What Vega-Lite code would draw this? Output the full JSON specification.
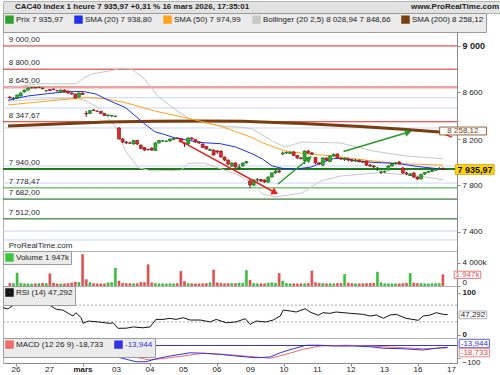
{
"$schema": "https://vega.github.io/schema/vega-lite/v6.json",
"padding": 0,
"spacing": 0,
"bounds": "flush",
"background": "#ffffff",
"config": {
 "font": "Liberation Sans",
 "view": {"stroke": "#b4b4b4", "strokeWidth": 1},
 "axis": {"labelFont": "Liberation Sans", "labelFontSize": 8, "labelColor": "#222222", "domainColor": "#8c8c8c", "tickColor": "#8c8c8c", "tickSize": 3, "labelPadding": 2, "grid": false},
 "legend": {"orient": "top-left", "offset": 0, "direction": "horizontal", "fillColor": "#ebebeb", "strokeColor": "#9c9c9c", "padding": 2, "labelFont": "Liberation Sans", "labelFontSize": 8, "labelColor": "#222222", "symbolType": "square", "symbolSize": 20, "symbolStrokeWidth": 4, "columnPadding": 4, "labelOffset": 2, "cornerRadius": 0}
},
"resolve": {"scale": {"x": "independent", "y": "independent", "color": "independent"}, "legend": {"color": "independent"}, "axis": {"x": "independent", "y": "independent"}},
"datasets": {
 "candles": [
  {"i":-3,"o":8561,"h":8565,"l":8548,"c":8552,"v":420},
  {"i":-2,"o":8548,"h":8561,"l":8535,"c":8549,"v":390},
  {"i":-1,"o":8552,"h":8582,"l":8548,"c":8578,"v":2240},
  {"i":0,"o":8569,"h":8600,"l":8565,"c":8595,"v":460},
  {"i":1,"o":8604,"h":8625,"l":8600,"c":8621,"v":360},
  {"i":2,"o":8621,"h":8642,"l":8616,"c":8638,"v":350},
  {"i":3,"o":8638,"h":8647,"l":8634,"c":8642,"v":320},
  {"i":4,"o":8642,"h":8647,"l":8634,"c":8638,"v":350},
  {"i":5,"o":8642,"h":8650,"l":8638,"c":8645,"v":390},
  {"i":6,"o":8638,"h":8642,"l":8625,"c":8634,"v":450},
  {"i":7,"o":8616,"h":8621,"l":8604,"c":8617,"v":420},
  {"i":8,"o":8625,"h":8629,"l":8612,"c":8616,"v":2120},
  {"i":9,"o":8629,"h":8634,"l":8621,"c":8625,"v":490},
  {"i":10,"o":8617,"h":8621,"l":8604,"c":8616,"v":350},
  {"i":11,"o":8604,"h":8625,"l":8600,"c":8621,"v":340},
  {"i":12,"o":8621,"h":8625,"l":8600,"c":8604,"v":360},
  {"i":13,"o":8612,"h":8616,"l":8590,"c":8595,"v":380},
  {"i":14,"o":8595,"h":8600,"l":8582,"c":8586,"v":490},
  {"i":15,"o":8586,"h":8590,"l":8548,"c":8552,"v":670},
  {"i":16,"o":8561,"h":8600,"l":8556,"c":8595,"v":600},
  {"i":17,"o":8595,"h":8600,"l":8578,"c":8582,"v":5490},
  {"i":18,"o":8419,"h":8440,"l":8388,"c":8414,"v":1080},
  {"i":19,"o":8419,"h":8449,"l":8414,"c":8444,"v":560},
  {"i":20,"o":8449,"h":8457,"l":8440,"c":8444,"v":390},
  {"i":21,"o":8440,"h":8444,"l":8431,"c":8438,"v":350},
  {"i":22,"o":8436,"h":8440,"l":8414,"c":8419,"v":350},
  {"i":23,"o":8419,"h":8423,"l":8397,"c":8401,"v":340},
  {"i":24,"o":8401,"h":8410,"l":8393,"c":8406,"v":530},
  {"i":25,"o":8397,"h":8406,"l":8388,"c":8401,"v":560},
  {"i":26,"o":8393,"h":8401,"l":8388,"c":8397,"v":3100},
  {"i":27,"o":8294,"h":8302,"l":8195,"c":8199,"v":840},
  {"i":28,"o":8199,"h":8208,"l":8165,"c":8173,"v":420},
  {"i":29,"o":8173,"h":8182,"l":8156,"c":8165,"v":390},
  {"i":30,"o":8165,"h":8178,"l":8156,"c":8163,"v":380},
  {"i":31,"o":8156,"h":8191,"l":8152,"c":8186,"v":360},
  {"i":32,"o":8186,"h":8191,"l":8147,"c":8156,"v":390},
  {"i":33,"o":8147,"h":8152,"l":8113,"c":8117,"v":590},
  {"i":34,"o":8126,"h":8130,"l":8096,"c":8104,"v":560},
  {"i":35,"o":8109,"h":8117,"l":8100,"c":8107,"v":3700},
  {"i":36,"o":8122,"h":8126,"l":8096,"c":8104,"v":530},
  {"i":37,"o":8100,"h":8170,"l":8096,"c":8165,"v":420},
  {"i":38,"o":8165,"h":8191,"l":8160,"c":8186,"v":340},
  {"i":39,"o":8182,"h":8191,"l":8173,"c":8183,"v":360},
  {"i":40,"o":8178,"h":8186,"l":8173,"c":8182,"v":340},
  {"i":41,"o":8182,"h":8204,"l":8178,"c":8199,"v":350},
  {"i":42,"o":8195,"h":8208,"l":8191,"c":8204,"v":360},
  {"i":43,"o":8208,"h":8212,"l":8199,"c":8203,"v":390},
  {"i":44,"o":8204,"h":8208,"l":8170,"c":8173,"v":2540},
  {"i":45,"o":8165,"h":8173,"l":8130,"c":8156,"v":770},
  {"i":46,"o":8156,"h":8212,"l":8150,"c":8208,"v":390},
  {"i":47,"o":8208,"h":8216,"l":8191,"c":8199,"v":360},
  {"i":48,"o":8195,"h":8199,"l":8165,"c":8173,"v":350},
  {"i":49,"o":8173,"h":8178,"l":8156,"c":8165,"v":340},
  {"i":50,"o":8156,"h":8160,"l":8122,"c":8126,"v":360},
  {"i":51,"o":8135,"h":8139,"l":8109,"c":8113,"v":390},
  {"i":52,"o":8100,"h":8117,"l":8096,"c":8109,"v":530},
  {"i":53,"o":8104,"h":8109,"l":8057,"c":8061,"v":2770},
  {"i":54,"o":8096,"h":8104,"l":8070,"c":8087,"v":530},
  {"i":55,"o":8096,"h":8100,"l":8040,"c":8044,"v":420},
  {"i":56,"o":8044,"h":8048,"l":8010,"c":8018,"v":360},
  {"i":57,"o":8018,"h":8022,"l":7975,"c":7984,"v":380},
  {"i":58,"o":7967,"h":7997,"l":7958,"c":7993,"v":420},
  {"i":59,"o":7993,"h":7997,"l":7950,"c":7958,"v":390},
  {"i":60,"o":7953,"h":7984,"l":7932,"c":7956,"v":490},
  {"i":61,"o":7967,"h":7997,"l":7962,"c":7993,"v":450},
  {"i":62,"o":7993,"h":8010,"l":7988,"c":8005,"v":2700},
  {"i":63,"o":7838,"h":7855,"l":7778,"c":7803,"v":980},
  {"i":64,"o":7803,"h":7851,"l":7795,"c":7846,"v":420},
  {"i":65,"o":7846,"h":7864,"l":7829,"c":7851,"v":360},
  {"i":66,"o":7851,"h":7855,"l":7829,"c":7838,"v":350},
  {"i":67,"o":7846,"h":7851,"l":7820,"c":7829,"v":360},
  {"i":68,"o":7829,"h":7877,"l":7820,"c":7872,"v":490},
  {"i":69,"o":7872,"h":7912,"l":7868,"c":7907,"v":530},
  {"i":70,"o":7907,"h":7932,"l":7900,"c":7924,"v":460},
  {"i":71,"o":7924,"h":7932,"l":7907,"c":7915,"v":2180},
  {"i":72,"o":8070,"h":8092,"l":8061,"c":8079,"v":840},
  {"i":73,"o":8079,"h":8092,"l":8070,"c":8083,"v":420},
  {"i":74,"o":8075,"h":8092,"l":8070,"c":8083,"v":360},
  {"i":75,"o":8087,"h":8096,"l":8053,"c":8057,"v":360},
  {"i":76,"o":8057,"h":8061,"l":8027,"c":8036,"v":350},
  {"i":77,"o":8036,"h":8044,"l":8022,"c":8031,"v":350},
  {"i":78,"o":8014,"h":8100,"l":7984,"c":8096,"v":380},
  {"i":79,"o":8096,"h":8104,"l":8070,"c":8079,"v":420},
  {"i":80,"o":8079,"h":8087,"l":8061,"c":8070,"v":2600},
  {"i":81,"o":8040,"h":8044,"l":7984,"c":7993,"v":560},
  {"i":82,"o":7993,"h":8001,"l":7975,"c":7984,"v":420},
  {"i":83,"o":7975,"h":8040,"l":7967,"c":8036,"v":390},
  {"i":84,"o":8036,"h":8040,"l":8010,"c":8018,"v":360},
  {"i":85,"o":8005,"h":8057,"l":8001,"c":8053,"v":380},
  {"i":86,"o":8053,"h":8075,"l":8048,"c":8066,"v":360},
  {"i":87,"o":8070,"h":8075,"l":8036,"c":8040,"v":420},
  {"i":88,"o":8036,"h":8040,"l":8018,"c":8027,"v":390},
  {"i":89,"o":8022,"h":8040,"l":8010,"c":8031,"v":2000},
  {"i":90,"o":8027,"h":8036,"l":8005,"c":8018,"v":490},
  {"i":91,"o":8018,"h":8027,"l":8001,"c":8010,"v":390},
  {"i":92,"o":8010,"h":8027,"l":8001,"c":8018,"v":360},
  {"i":93,"o":8018,"h":8022,"l":7997,"c":8005,"v":350},
  {"i":94,"o":8005,"h":8014,"l":7993,"c":8001,"v":360},
  {"i":95,"o":8010,"h":8014,"l":7967,"c":7975,"v":390},
  {"i":96,"o":7975,"h":7984,"l":7958,"c":7967,"v":420},
  {"i":97,"o":7967,"h":7975,"l":7950,"c":7958,"v":460},
  {"i":98,"o":7945,"h":7958,"l":7924,"c":7950,"v":2400},
  {"i":99,"o":7912,"h":7928,"l":7898,"c":7917,"v":530},
  {"i":100,"o":7915,"h":7928,"l":7907,"c":7920,"v":360},
  {"i":101,"o":7932,"h":7975,"l":7928,"c":7967,"v":360},
  {"i":102,"o":7967,"h":7993,"l":7962,"c":7984,"v":340},
  {"i":103,"o":7984,"h":8001,"l":7980,"c":7993,"v":350},
  {"i":104,"o":8001,"h":8010,"l":7980,"c":7984,"v":360},
  {"i":105,"o":7950,"h":7958,"l":7898,"c":7907,"v":380},
  {"i":106,"o":7907,"h":7915,"l":7889,"c":7898,"v":460},
  {"i":107,"o":7885,"h":7907,"l":7881,"c":7898,"v":2180},
  {"i":108,"o":7907,"h":7912,"l":7864,"c":7872,"v":490},
  {"i":109,"o":7872,"h":7877,"l":7846,"c":7855,"v":390},
  {"i":110,"o":7855,"h":7900,"l":7851,"c":7895,"v":380},
  {"i":111,"o":7898,"h":7915,"l":7889,"c":7912,"v":360},
  {"i":112,"o":7912,"h":7924,"l":7907,"c":7920,"v":350},
  {"i":113,"o":7920,"h":7937,"l":7915,"c":7930,"v":360},
  {"i":114,"o":7930,"h":7950,"l":7924,"c":7941,"v":380},
  {"i":115,"o":7938,"h":7958,"l":7932,"c":7945,"v":420},
  {"i":116,"o":7945,"h":7955,"l":7930,"c":7936,"v":1947}
 ],
 "sma20": [
  {"i":-3.5,"p":8532},{"i":1.9,"p":8569},{"i":7.3,"p":8589},{"i":12.6,"p":8606},{"i":17.2,"p":8608},{"i":20.7,"p":8586},{"i":23.4,"p":8543},{"i":28.8,"p":8469},{"i":34.1,"p":8328},{"i":36.8,"p":8262},{"i":39.5,"p":8238},{"i":42.2,"p":8210},{"i":46.2,"p":8186},{"i":50.3,"p":8167},{"i":54.8,"p":8159},{"i":59.1,"p":8130},{"i":63.7,"p":8070},{"i":66.4,"p":8027},{"i":69.1,"p":7967},{"i":71.8,"p":7947},{"i":75.8,"p":7941},{"i":79.8,"p":7958},{"i":82.5,"p":7993},{"i":86,"p":8031},{"i":89.2,"p":8031},{"i":93.3,"p":8005},{"i":98.7,"p":7995},{"i":104,"p":7987},{"i":109.4,"p":7961},{"i":116,"p":7939}
 ],
 "sma50": [
  {"i":-3.5,"p":8492},{"i":7.3,"p":8526},{"i":18,"p":8555},{"i":23.4,"p":8546},{"i":28.8,"p":8512},{"i":36.8,"p":8440},{"i":45.7,"p":8380},{"i":54.8,"p":8311},{"i":63.7,"p":8210},{"i":66.4,"p":8167},{"i":72.6,"p":8096},{"i":79,"p":8070},{"i":86,"p":8053},{"i":95.2,"p":8016},{"i":104,"p":7987},{"i":116,"p":7975}
 ],
 "bbu": [
  {"i":-3.5,"p":8641},{"i":5.4,"p":8675},{"i":15.3,"p":8675},{"i":17.2,"p":8724},{"i":19.9,"p":8761},{"i":25.3,"p":8790},{"i":27.4,"p":8808},{"i":30.6,"p":8799},{"i":34.1,"p":8713},{"i":37.6,"p":8569},{"i":43,"p":8440},{"i":47.6,"p":8354},{"i":54.8,"p":8311},{"i":61,"p":8300},{"i":63.7,"p":8285},{"i":69.1,"p":8182},{"i":72.6,"p":8130},{"i":77.2,"p":8173},{"i":87.9,"p":8165},{"i":96.8,"p":8096},{"i":105.9,"p":8053},{"i":116,"p":8029}
 ],
 "bbl": [
  {"i":-3.5,"p":8526},{"i":7.3,"p":8543},{"i":15.3,"p":8552},{"i":18,"p":8526},{"i":22,"p":8457},{"i":26.1,"p":8302},{"i":28.8,"p":8096},{"i":32.3,"p":7952},{"i":36,"p":7924},{"i":44.1,"p":7930},{"i":46,"p":7990},{"i":50.3,"p":7993},{"i":59.1,"p":7898},{"i":63.7,"p":7820},{"i":66.4,"p":7726},{"i":69.9,"p":7700},{"i":77.2,"p":7734},{"i":82.5,"p":7838},{"i":87.9,"p":7881},{"i":98.7,"p":7909},{"i":109.4,"p":7881},{"i":116,"p":7849}
 ],
 "sma200": [
  {"i":-3.5,"p":8311},{"i":9.9,"p":8328},{"i":23.4,"p":8345},{"i":36.8,"p":8352},{"i":50.3,"p":8355},{"i":61,"p":8352},{"i":77.2,"p":8333},{"i":93.3,"p":8307},{"i":104,"p":8285},{"i":116,"p":8258}
 ],
 "levels": [
  {"p":9000,"k":"res","label":"9 000,00"},{"p":8800,"k":"res","label":"8 800,00"},{"p":8645,"k":"res2","label":"8 645,00"},{"p":8347.67,"k":"res","label":"8 347,67"},
  {"p":7940,"k":"sup","label":"7 940,00"},{"p":7778.47,"k":"sup2","label":"7 778,47"},{"p":7682,"k":"sup3","label":"7 682,00"},{"p":7512,"k":"sup3","label":"7 512,00"},
  {"p":8555,"k":"blue","label":""},{"p":8466,"k":"blue","label":""},{"p":8294,"k":"blue","label":""},{"p":7967,"k":"blue","label":""},{"p":7820,"k":"blue","label":""},{"p":7407,"k":"blue","label":""},{"p":7330,"k":"blue","label":""}
 ],
 "arrows": [
  {"id":1,"d":"down","i":43.5,"p":8190,"i2":69.6,"p2":7743},
  {"id":2,"d":"up","i":70.7,"p":7812,"i2":79.0,"p2":8027},
  {"id":3,"d":"up","i":88.7,"p":8091,"i2":106.2,"p2":8255},
  {"id":4,"d":"down","i":115.3,"p":8253,"i2":118.5,"p2":8215}
 ],
 "rsi": [
  {"i":-3.5,"r":64},{"i":-2.2,"r":61},{"i":-0.8,"r":69.5},{"i":1.1,"r":76},{"i":2.7,"r":78},{"i":4,"r":80},{"i":5.1,"r":72},{"i":7.3,"r":70},{"i":9.1,"r":69.5},{"i":10.8,"r":60},{"i":12.6,"r":58},{"i":14.5,"r":48},{"i":15.3,"r":44},{"i":16.1,"r":52},{"i":17.5,"r":40},{"i":18,"r":26.6},{"i":19.4,"r":32},{"i":21.5,"r":30.5},{"i":25.3,"r":26.6},{"i":26.1,"r":28},{"i":27.4,"r":14.8},{"i":29.6,"r":15},{"i":31.5,"r":18},{"i":34.1,"r":16},{"i":36,"r":18},{"i":37.6,"r":36},{"i":39.5,"r":36},{"i":41.4,"r":38.5},{"i":43,"r":36},{"i":44.9,"r":40},{"i":46.8,"r":34.5},{"i":49.5,"r":34.5},{"i":52.2,"r":30},{"i":53.8,"r":36},{"i":56.5,"r":28},{"i":59.1,"r":30},{"i":61.6,"r":37.6},{"i":62.9,"r":24},{"i":64.5,"r":32},{"i":67.2,"r":30},{"i":69.1,"r":34.5},{"i":71,"r":44},{"i":71.8,"r":58},{"i":73.7,"r":56},{"i":75.3,"r":53.6},{"i":77.7,"r":61.4},{"i":79,"r":53.6},{"i":81.2,"r":45.7},{"i":82.5,"r":52},{"i":84.4,"r":50.4},{"i":86,"r":53.6},{"i":89.8,"r":50.5},{"i":93.3,"r":48},{"i":95.2,"r":44},{"i":96.8,"r":46.4},{"i":98.7,"r":38.6},{"i":100.5,"r":46.4},{"i":102.2,"r":48},{"i":104.8,"r":38.6},{"i":108.1,"r":33.8},{"i":109.4,"r":44},{"i":111.3,"r":46.4},{"i":112.9,"r":52},{"i":114.8,"r":48},{"i":116,"r":47.3}
 ],
 "rsilv": [{"lv":70},{"lv":30}],
 "macdl": [
  {"i":-3.5,"m":8},{"i":5,"m":14},{"i":13,"m":10},{"i":17,"m":2},{"i":20.7,"m":-30},{"i":26.1,"m":-84},{"i":29.6,"m":-110},{"i":32.3,"m":-130},{"i":34.9,"m":-130},{"i":37.6,"m":-106},{"i":41.4,"m":-84},{"i":46.8,"m":-58},{"i":50.3,"m":-62},{"i":54.8,"m":-70},{"i":59.1,"m":-84},{"i":64.5,"m":-98},{"i":68.3,"m":-92},{"i":71,"m":-58},{"i":74.5,"m":-26},{"i":78,"m":2},{"i":81.7,"m":2},{"i":86,"m":-4},{"i":90.6,"m":-4},{"i":95.2,"m":-10},{"i":98.7,"m":-22},{"i":104,"m":-26},{"i":109.4,"m":-36},{"i":112.9,"m":-22},{"i":116,"m":-14}
 ],
 "sigl": [
  {"i":-3.5,"m":5},{"i":5,"m":10},{"i":13,"m":11},{"i":17,"m":5},{"i":20.7,"m":-25},{"i":28,"m":-70},{"i":36,"m":-116},{"i":41.4,"m":-98},{"i":50.3,"m":-62},{"i":59.1,"m":-78},{"i":68.3,"m":-102},{"i":72.6,"m":-70},{"i":77.2,"m":-30},{"i":81.7,"m":-4},{"i":88.7,"m":2},{"i":95.2,"m":-4},{"i":104,"m":-18},{"i":109.4,"m":-26},{"i":116,"m":-18.7}
 ],
 "days": [
  {"i":0,"d":"26"},{"i":9,"d":"27"},{"i":18,"d":"mars"},{"i":27,"d":"03"},{"i":36,"d":"04"},{"i":45,"d":"05"},{"i":54,"d":"06"},{"i":63,"d":"09"},{"i":72,"d":"10"},{"i":81,"d":"11"},{"i":90,"d":"12"},{"i":99,"d":"13"},{"i":108,"d":"16"},{"i":117,"d":"17"}
 ]
},
"vconcat": [
 {
  "width": 500, "height": 12,
  "view": {"fill": "#e2e2e2", "stroke": "#b4b4b4"},
  "data": {"values": [{"t": "CAC40 Index 1 heure 7 935,97 +0,31 % 16 mars 2026, 17:35:01", "s": "www.ProRealTime.com"}]},
  "layer": [
   {"mark": {"type": "text", "align": "left", "baseline": "middle", "dx": 12, "fontSize": 8, "fontWeight": "bold", "color": "#1e1e1e"},
    "encoding": {"x": {"datum": 0, "type": "quantitative", "scale": {"domain": [0, 1], "nice": false}, "axis": null}, "text": {"field": "t"}}},
   {"mark": {"type": "text", "align": "right", "baseline": "middle", "dx": -4, "fontSize": 8, "fontWeight": "bold", "color": "#1e1e1e"},
    "encoding": {"x": {"datum": 1, "type": "quantitative"}, "text": {"field": "s"}}}
  ]
 },
 {
  "width": 454, "height": 238,
  "layer": [
   {"data": {"name": "levels"}, "transform": [{"filter": "datum.k == 'blue'"}],
    "mark": {"type": "rule", "color": "#c9d5f3", "strokeWidth": 1},
    "encoding": {"y": {"field": "p", "type": "quantitative", "title": null, "scale": {"domain": [7235.3, 9283.5], "nice": false, "zero": false},
      "axis": {"orient": "right", "title": null, "values": [7400,7600,7800,8000,8200,8400,8600,8800,9000,9200], "labelExpr": "replace(format(datum.value, ','), ',', ' ')",
        "labelFontWeight": {"condition": {"test": "datum.value == 9000", "value": "bold"}, "value": "normal"},
        "labelFontSize": {"condition": {"test": "datum.value == 9000", "value": 9}, "value": 8},
        "labelOffset": {"condition": {"test": "datum.value == 8200", "value": 2}, "value": 0}}}}},
   {"data": {"name": "levels"}, "transform": [{"filter": "datum.k == 'res'"}],
    "mark": {"type": "rule", "color": "#ec2424", "strokeWidth": 1},
    "encoding": {"y": {"field": "p", "type": "quantitative", "title": null}}},
   {"data": {"name": "levels"}, "transform": [{"filter": "datum.k == 'res2'"}],
    "mark": {"type": "rule", "color": "#f3a0a0", "strokeWidth": 2.5},
    "encoding": {"y": {"field": "p", "type": "quantitative", "title": null}}},
   {"data": {"name": "levels"}, "transform": [{"filter": "datum.k == 'sup'"}],
    "mark": {"type": "rule", "color": "#1d7a1d", "strokeWidth": 2},
    "encoding": {"y": {"field": "p", "type": "quantitative", "title": null}}},
   {"data": {"name": "levels"}, "transform": [{"filter": "datum.k == 'sup2'"}],
    "mark": {"type": "rule", "color": "#36a836", "strokeWidth": 1},
    "encoding": {"y": {"field": "p", "type": "quantitative", "title": null}}},
   {"data": {"name": "levels"}, "transform": [{"filter": "datum.k == 'sup3'"}],
    "mark": {"type": "rule", "color": "#0e5e0e", "strokeWidth": 1},
    "encoding": {"y": {"field": "p", "type": "quantitative", "title": null}}},
   {"data": {"name": "levels"}, "transform": [{"filter": "datum.label != ''"}],
    "mark": {"type": "text", "align": "left", "baseline": "bottom", "dy": -2, "fontSize": 8, "color": "#2a2a2a"},
    "encoding": {"x": {"datum": -3.3, "type": "quantitative", "scale": {"domain": [-3.5, 118.5], "nice": false, "zero": false}, "axis": null},
      "y": {"field": "p", "type": "quantitative", "title": null}, "text": {"field": "label"}}},
   {"data": {"name": "bbu"}, "mark": {"type": "line", "strokeWidth": 1},
    "encoding": {"x": {"field": "i", "type": "quantitative", "title": null}, "y": {"field": "p", "type": "quantitative", "title": null},
      "color": {"datum": "Bollinger (20 2,5) 8 028,94 7 848,66",
        "scale": {"domain": ["Prix 7 935,97", "SMA (20) 7 938,80", "SMA (50) 7 974,99", "Bollinger (20 2,5) 8 028,94 7 848,66", "SMA (200) 8 258,12"],
                  "range": ["#2e9e2e", "#1f2fee", "#ffa31a", "#c8c8c8", "#7a3d10"]},
        "legend": {"title": null, "orient": "top-left", "direction": "horizontal", "offset": 0}}}},
   {"data": {"name": "bbl"}, "mark": {"type": "line", "strokeWidth": 1},
    "encoding": {"x": {"field": "i", "type": "quantitative", "title": null}, "y": {"field": "p", "type": "quantitative", "title": null},
      "color": {"datum": "Bollinger (20 2,5) 8 028,94 7 848,66"}}},
   {"data": {"name": "sma200"}, "mark": {"type": "line", "strokeWidth": 3},
    "encoding": {"x": {"field": "i", "type": "quantitative", "title": null}, "y": {"field": "p", "type": "quantitative", "title": null},
      "color": {"datum": "SMA (200) 8 258,12"}}},
   {"data": {"name": "sma50"}, "mark": {"type": "line", "strokeWidth": 1},
    "encoding": {"x": {"field": "i", "type": "quantitative", "title": null}, "y": {"field": "p", "type": "quantitative", "title": null},
      "color": {"datum": "SMA (50) 7 974,99"}}},
   {"data": {"name": "sma20"}, "mark": {"type": "line", "strokeWidth": 1},
    "encoding": {"x": {"field": "i", "type": "quantitative", "title": null}, "y": {"field": "p", "type": "quantitative", "title": null},
      "color": {"datum": "SMA (20) 7 938,80"}}},
   {"data": {"name": "candles"}, "mark": {"type": "rule", "strokeWidth": 1, "color": "#333333"},
    "encoding": {"x": {"field": "i", "type": "quantitative", "title": null}, "y": {"field": "l", "type": "quantitative", "title": null}, "y2": {"field": "h"}}},
   {"data": {"name": "candles"}, "mark": {"type": "bar", "size": 3, "orient": "vertical", "strokeWidth": 0.6},
    "encoding": {"x": {"field": "i", "type": "quantitative", "title": null}, "y": {"field": "o", "type": "quantitative", "title": null}, "y2": {"field": "c"},
      "color": {"condition": {"test": "datum.c >= datum.o", "value": "#2eae2e"}, "value": "#e3262b"},
      "stroke": {"condition": {"test": "datum.c >= datum.o", "value": "#136b13"}, "value": "#8c1212"}}},
   {"data": {"name": "arrows"}, "mark": {"type": "rule", "strokeWidth": 1.5},
    "encoding": {"x": {"field": "i", "type": "quantitative", "title": null}, "x2": {"field": "i2"}, "y": {"field": "p", "type": "quantitative", "title": null}, "y2": {"field": "p2"},
      "color": {"condition": {"test": "datum.d == 'down'", "value": "#e82020"}, "value": "#2a9a2a"}}},
   {"data": {"name": "arrows"}, "transform": [{"filter": "datum.id == 1"}],
    "mark": {"type": "point", "shape": "triangle", "filled": true, "size": 60, "angle": 118, "color": "#e82020", "opacity": 1},
    "encoding": {"x": {"field": "i2", "type": "quantitative", "title": null}, "y": {"field": "p2", "type": "quantitative", "title": null}}},
   {"data": {"name": "arrows"}, "transform": [{"filter": "datum.id == 2"}],
    "mark": {"type": "point", "shape": "triangle", "filled": true, "size": 60, "angle": 51, "color": "#2a9a2a", "opacity": 1},
    "encoding": {"x": {"field": "i2", "type": "quantitative", "title": null}, "y": {"field": "p2", "type": "quantitative", "title": null}}},
   {"data": {"name": "arrows"}, "transform": [{"filter": "datum.id == 3"}],
    "mark": {"type": "point", "shape": "triangle", "filled": true, "size": 60, "angle": 74, "color": "#2a9a2a", "opacity": 1},
    "encoding": {"x": {"field": "i2", "type": "quantitative", "title": null}, "y": {"field": "p2", "type": "quantitative", "title": null}}},
   {"data": {"values": [{}]}, "mark": {"type": "rect", "fill": "#ffffff", "stroke": "#7a3d10", "strokeWidth": 0.8},
    "encoding": {"x": {"datum": 115.1, "type": "quantitative"}, "x2": {"datum": 128}, "y": {"datum": 8302, "type": "quantitative"}, "y2": {"datum": 8234}}},
   {"data": {"values": [{}]}, "mark": {"type": "text", "align": "center", "baseline": "middle", "fontSize": 8, "color": "#7a3d10"},
    "encoding": {"x": {"datum": 121.5, "type": "quantitative"}, "y": {"datum": 8268, "type": "quantitative"}, "text": {"value": "8 258,12"}}},
   {"data": {"values": [{}]}, "mark": {"type": "rect", "fill": "#fcd20f", "stroke": "#d4a800", "strokeWidth": 0.8},
    "encoding": {"x": {"datum": 119.4, "type": "quantitative"}, "x2": {"datum": 130.1}, "y": {"datum": 7979, "type": "quantitative"}, "y2": {"datum": 7893}}},
   {"data": {"values": [{}]}, "mark": {"type": "text", "align": "center", "baseline": "middle", "fontSize": 9, "fontWeight": "bold", "color": "#111111"},
    "encoding": {"x": {"datum": 124.8, "type": "quantitative"}, "y": {"datum": 7936, "type": "quantitative"}, "text": {"value": "7 935,97"}}},
   {"data": {"values": [{}]}, "mark": {"type": "text", "align": "left", "baseline": "bottom", "fontSize": 8, "color": "#2a2a2a"},
    "encoding": {"x": {"datum": -3.3, "type": "quantitative"}, "y": {"datum": 7243, "type": "quantitative"}, "text": {"value": "ProRealTime.com"}}}
  ]
 },
 {
  "width": 454, "height": 35,
  "layer": [
   {"data": {"name": "candles"}, "mark": {"type": "bar", "size": 2, "orient": "vertical", "strokeWidth": 0.5},
    "encoding": {"x": {"field": "i", "type": "quantitative", "title": null, "scale": {"domain": [-3.5, 118.5], "nice": false, "zero": false}, "axis": null},
      "y": {"field": "v", "type": "quantitative", "title": null, "scale": {"domain": [-30, 6100], "nice": false, "zero": false},
        "axis": {"orient": "right", "title": null, "values": [0, 4000], "labelExpr": "datum.value == 0 ? '0' : replace(format(datum.value, ','), ',', ' ') + 'k'",
          "labelOffset": {"condition": {"test": "datum.value == 0", "value": -3}, "value": 0}}},
      "y2": {"datum": 0},
      "color": {"condition": {"test": "datum.c < datum.o", "value": "#e25555"}, "datum": "Volume 1 947k", "scale": {"range": ["#3cc43c"]},
        "legend": {"title": null, "orient": "top-left", "offset": 0, "symbolSize": 70, "symbolStrokeWidth": 0}},
      "stroke": {"condition": {"test": "datum.c < datum.o", "value": "#c83c3c"}, "value": "#2aa02a"}}},
   {"data": {"values": [{}]}, "mark": {"type": "rect", "fill": "#ffffff", "stroke": "#e25555", "strokeWidth": 0.8},
    "encoding": {"x": {"datum": 119.1, "type": "quantitative"}, "x2": {"datum": 126.4}, "y": {"datum": 2560, "type": "quantitative"}, "y2": {"datum": 1300}}},
   {"data": {"values": [{}]}, "mark": {"type": "text", "align": "center", "baseline": "middle", "fontSize": 8, "color": "#e25555"},
    "encoding": {"x": {"datum": 122.75, "type": "quantitative"}, "y": {"datum": 1947, "type": "quantitative"}, "text": {"value": "1 947k"}}}
  ]
 },
 {
  "width": 454, "height": 52,
  "layer": [
   {"data": {"name": "rsilv"}, "mark": {"type": "rule", "color": "#a8a8a8", "strokeDash": [2, 2], "strokeWidth": 1},
    "encoding": {"y": {"field": "lv", "type": "quantitative", "title": null, "scale": {"domain": [-8.3, 115.5], "nice": false, "zero": false},
      "axis": {"orient": "right", "title": null, "values": [0, 100], "labelFontWeight": "bold"}}}},
   {"data": {"name": "rsi"}, "mark": {"type": "line", "strokeWidth": 1},
    "encoding": {"x": {"field": "i", "type": "quantitative", "title": null, "scale": {"domain": [-3.5, 118.5], "nice": false, "zero": false}, "axis": null},
      "y": {"field": "r", "type": "quantitative", "title": null},
      "color": {"datum": "RSI (14) 47,292", "scale": {"range": ["#151515"]}, "legend": {"title": null, "orient": "top-left", "offset": 0}}}},
   {"data": {"values": [{}]}, "mark": {"type": "rect", "fill": "#ffffff", "stroke": "#9c9c9c", "strokeWidth": 0.8},
    "encoding": {"x": {"datum": 119.1, "type": "quantitative"}, "x2": {"datum": 126.5}, "y": {"datum": 56, "type": "quantitative"}, "y2": {"datum": 37.6}}},
   {"data": {"values": [{}]}, "mark": {"type": "text", "align": "center", "baseline": "middle", "fontSize": 8, "color": "#222222"},
    "encoding": {"x": {"datum": 122.8, "type": "quantitative"}, "y": {"datum": 47.3, "type": "quantitative"}, "text": {"value": "47,292"}}}
  ]
 },
 {
  "width": 454, "height": 25,
  "layer": [
   {"data": {"values": [{}]}, "mark": {"type": "rule", "color": "#3535d8", "strokeWidth": 1.2},
    "encoding": {"y": {"datum": 0, "type": "quantitative", "scale": {"domain": [-140, 60], "nice": false, "zero": false},
      "axis": {"orient": "right", "title": null, "values": [-100], "labelOffset": 4}}}},
   {"data": {"name": "sigl"}, "mark": {"type": "line", "strokeWidth": 1},
    "encoding": {"x": {"field": "i", "type": "quantitative", "title": null, "scale": {"domain": [-3.5, 118.5], "nice": false, "zero": false},
      "axis": {"orient": "bottom", "title": null, "labels": false, "values": [0,9,18,27,36,45,54,63,72,81,90,99,108,117]}},
      "y": {"field": "m", "type": "quantitative", "title": null},
      "color": {"datum": "MACD (12 26 9) -18,733", "scale": {"domain": ["MACD (12 26 9) -18,733", "-13,944"], "range": ["#f06a6a", "#3030e6"]},
        "legend": {"title": null, "orient": "top-left", "offset": 0,
          "encode": {"labels": {"update": {"fill": {"signal": "datum.value === '-13,944' ? '#3030e6' : '#222222'"}}}}}}}},
   {"data": {"name": "macdl"}, "mark": {"type": "line", "strokeWidth": 1},
    "encoding": {"x": {"field": "i", "type": "quantitative", "title": null}, "y": {"field": "m", "type": "quantitative", "title": null},
      "color": {"datum": "-13,944"}}},
   {"data": {"name": "days"}, "transform": [{"filter": "datum.d != 'mars'"}],
    "mark": {"type": "text", "align": "center", "baseline": "top", "dy": 3, "fontSize": 8, "color": "#222222"},
    "encoding": {"x": {"field": "i", "type": "quantitative", "title": null}, "y": {"datum": -140, "type": "quantitative"}, "text": {"field": "d"}}},
   {"data": {"name": "days"}, "transform": [{"filter": "datum.d == 'mars'"}],
    "mark": {"type": "text", "align": "center", "baseline": "top", "dy": 3, "fontSize": 8, "fontWeight": "bold", "color": "#222222"},
    "encoding": {"x": {"field": "i", "type": "quantitative", "title": null}, "y": {"datum": -140, "type": "quantitative"}, "text": {"field": "d"}}},
   {"data": {"values": [{}]}, "mark": {"type": "rect", "fill": "#ffffff", "stroke": "#3030e6", "strokeWidth": 0.8},
    "encoding": {"x": {"datum": 119.1, "type": "quantitative"}, "x2": {"datum": 127.2}, "y": {"datum": 49.6, "type": "quantitative"}, "y2": {"datum": -17.6}}},
   {"data": {"values": [{}]}, "mark": {"type": "text", "align": "center", "baseline": "middle", "fontSize": 8, "color": "#3030e6"},
    "encoding": {"x": {"datum": 123.15, "type": "quantitative"}, "y": {"datum": 16, "type": "quantitative"}, "text": {"value": "-13,944"}}},
   {"data": {"values": [{}]}, "mark": {"type": "rect", "fill": "#ffffff", "stroke": "#f06a6a", "strokeWidth": 0.8},
    "encoding": {"x": {"datum": 119.1, "type": "quantitative"}, "x2": {"datum": 127.2}, "y": {"datum": -26, "type": "quantitative"}, "y2": {"datum": -90}}},
   {"data": {"values": [{}]}, "mark": {"type": "text", "align": "center", "baseline": "middle", "fontSize": 8, "color": "#e04848"},
    "encoding": {"x": {"datum": 123.15, "type": "quantitative"}, "y": {"datum": -58, "type": "quantitative"}, "text": {"value": "-18,733"}}}
  ]
 }
]
}
